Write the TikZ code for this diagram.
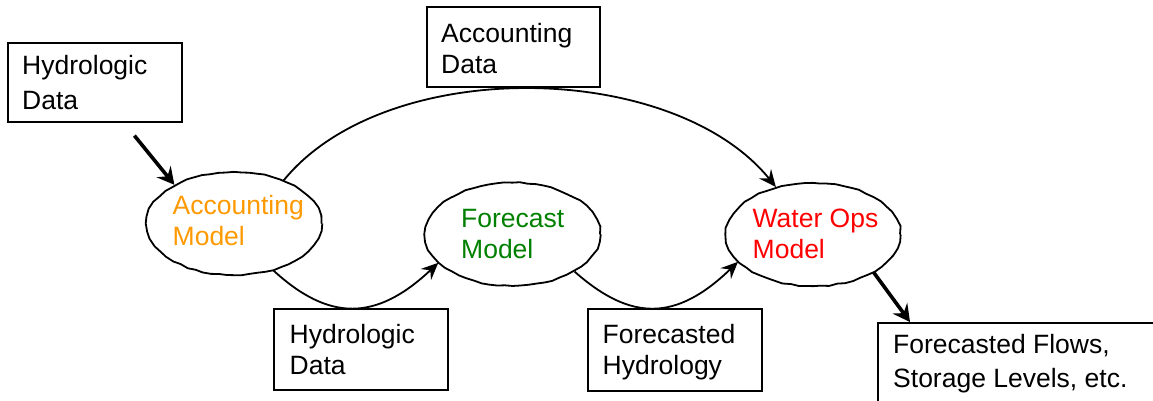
\documentclass[tikz,border=0pt]{standalone}
\usepackage{fontspec}
\setmainfont{Liberation Sans}
\usetikzlibrary{shapes.geometric,arrows.meta,calc,decorations.pathmorphing}
\definecolor{accorange}{RGB}{255,153,0}
\definecolor{fcgreen}{RGB}{0,128,0}
\definecolor{opsred}{RGB}{255,0,0}
\begin{document}
\pgfmathsetseed{7}
\begin{tikzpicture}[x=1pt,y=-1pt,
  box/.style={draw, line width=1.8pt, rectangle, inner sep=0pt},
  model/.style={draw, line width=1.8pt, ellipse, inner sep=0pt,
    minimum width=175pt, minimum height=103pt, decorate,
    decoration={random steps, segment length=8pt, amplitude=0.6pt}},
  txt/.style={anchor=west, inner sep=0pt, align=left, font=\fontsize{26.5}{31}\selectfont},
  flow/.style={line width=1.8pt, -{Stealth[length=17pt,width=15pt,inset=6pt]}},
  bigflow/.style={line width=3.6pt, -{Stealth[length=17pt,width=18pt,inset=6pt]}}]
\useasboundingbox (0,0) rectangle (1153,400);

% boxes
\node[box, minimum width=173.4pt, minimum height=79pt] (hyd1) at (95,82.2) {};
\node[box, minimum width=173.3pt, minimum height=80pt] (accd) at (513.3,47.3) {};
\node[box, minimum width=173.4pt, minimum height=80.7pt] (hyd2) at (361,349.7) {};
\node[box, minimum width=173.7pt, minimum height=81.7pt] (fhyd) at (674.8,349.8) {};
\node[box, minimum width=300pt, minimum height=95pt, anchor=north west] (flows) at (877,322) {};

% models
\node[model] (acc) at (234,223.5) {};
\node[model] (fm) at (512.5,234.3) {};
\node[model, minimum width=174pt] (wm) at (813,234.5) {};

% texts
\node[txt, font=\fontsize{26.5}{35}\selectfont] (t1) at (22,82.3) {Hydrologic\\Data};
\node[txt] (t2) at (441,48.7) {Accounting\\Data};
\node[txt] (t3) at (289.5,349.3) {Hydrologic\\Data};
\node[txt] (t4) at (602.5,352) {Forecasted\\Hydrology};
\node[txt, font=\fontsize{26.5}{34}\selectfont] (t5) at (893,363.6) {Forecasted Flows,\\Storage Levels, etc.};
\node[txt, text=accorange] (t6) at (172.5,221) {Accounting\\Model};
\node[txt, text=fcgreen] (t7) at (461,234.3) {Forecast\\Model};
\node[txt, text=opsred] (t8) at (752.5,233.7) {Water Ops\\Model};

% connectors
\draw[bigflow] ($(hyd1.south west)+(127,13)$) -- (acc.147);
\draw[flow] (acc.41) .. controls (386,55) and (673,60) .. (wm.128);
\draw[flow] (acc.-50) .. controls (329,321.5) and (376,321.5) .. (fm.-159);
\draw[flow] (fm.-31) .. controls (631,321.5) and (676,321.5) .. (wm.-160);
\draw[bigflow] (wm.-32) -- ($(flows.north west)+(33,0)$);
\end{tikzpicture}
\end{document}
